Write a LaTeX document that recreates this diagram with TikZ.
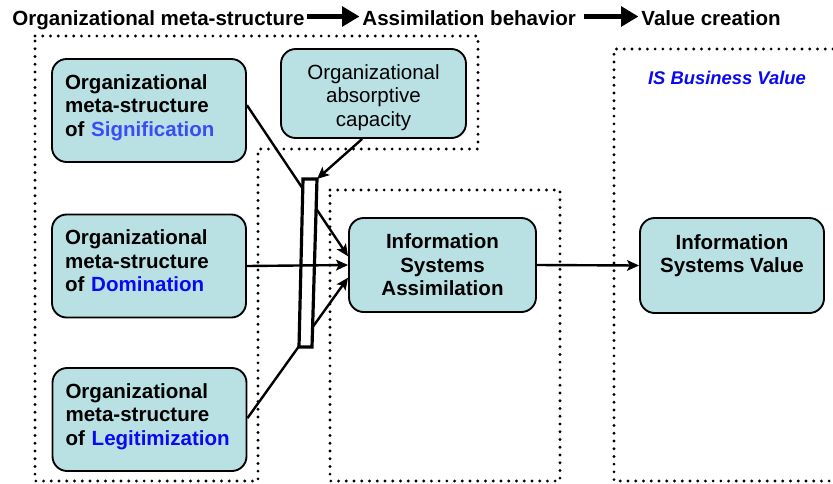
\documentclass[tikz,border=0pt]{standalone}
\usepackage{fontspec}
\setmainfont{Liberation Sans}
\usetikzlibrary{arrows.meta}
\definecolor{boxfill}{RGB}{185,224,227}
\definecolor{sigblue}{RGB}{58,76,245}
\definecolor{strongblue}{RGB}{10,10,240}

\begin{document}
\begin{tikzpicture}[x=0.75pt,y=-0.75pt,
        every node/.style={font=\fontsize{15.4}{17.6}\selectfont},
        isbox/.style={draw=black, line width=1.4pt, fill=boxfill, rounded corners=11pt},
        leftbox/.style={isbox, align=left, text width=126pt, inner xsep=9.75pt, text depth=43pt,
            minimum height=77.25pt, font=\fontsize{15.4}{17.6}\selectfont\bfseries},
        region/.style={line width=2.4pt, dash pattern=on 0pt off 5.8pt, line cap=round},
        link/.style={line width=1.8pt, -{Stealth[length=9pt,width=8pt,inset=2pt]}},
        headline/.style={anchor=base west, inner sep=2pt, text height=11.5pt, text depth=3.2pt,
            font=\fontsize{15.4}{17.6}\selectfont\bfseries},
        titlearrow/.style={line width=4.3pt, -{Triangle[length=13pt,width=14.5pt]}}]
        \useasboundingbox (0,0) rectangle (833,483);

        % dotted regions
        \draw[region] (35,36) -- (478,36) -- (478,149) -- (258,149) -- (258,481) -- (35,481) -- cycle;
        \draw[region] (330,190) -- (560,190) -- (560,481) -- (330,481) -- cycle;
        \draw[region] (833,49) -- (614,49) -- (614,481) -- (833,481);

        % headline
        \node[headline] (t1) at (9.5,25.5) {Organizational meta-structure};
        \node[headline] (t2) at (359.5,25.5) {Assimilation behavior};
        \node[headline] (t3) at (638.5,25.5) {Value creation};
        \draw[titlearrow] ([yshift=2.6pt]t1.east) -- ([yshift=2.6pt]t2.west);
        \draw[titlearrow] ([yshift=2.6pt,xshift=4pt]t2.east) -- ([yshift=2.6pt]t3.west);

        \node[font=\fontsize{13.8}{16}\selectfont\bfseries\itshape, text=strongblue] (isbv) at (727,78) {IS Business Value};

        % boxes
        \node[leftbox] (sig) at (149,110.5) {Organizational\\meta-structure\\of \textcolor{sigblue}{Signification}};
        \node[leftbox] (dom) at (149,266) {Organizational\\meta-structure\\of \textcolor{strongblue}{Domination}};
        \node[leftbox] (legit) at (149.5,419.5) {Organizational\\meta-structure\\of \textcolor{strongblue}{Legitimization}};
        \node[isbox, align=center, text height=52.5pt, minimum width=138.75pt, minimum height=66.75pt] (absorb) at (373.5,93.5) {Organizational\\absorptive\\capacity};
        \node[isbox, align=center, minimum width=140.25pt, minimum height=70.5pt, font=\fontsize{15.4}{17.6}\selectfont\bfseries] (assim) at (442.5,265) {Information\\Systems\\Assimilation};
        \node[isbox, align=center, minimum width=138pt, minimum height=71.25pt, font=\fontsize{15.4}{17.6}\selectfont\bfseries] (val) at (732,265.5) {Information\\Systems Value\\\mbox{}};

        % connectors
        \coordinate (b1) at (303,179);
        \coordinate (b2) at (317,179);
        \coordinate (b3) at (312,347);
        \coordinate (b4) at (299,347);
        \draw[link] ([yshift=4pt]sig.east) -- ([yshift=6.5pt]assim.west);
        \draw[link] ([yshift=1pt]legit.east) -- ([yshift=-9.5pt]assim.west);
        \filldraw[fill=white, line width=2.4pt] (b1) -- (b2) -- (b3) -- (b4) -- cycle;
        \draw[link] ([xshift=-8.5pt]absorb.south) -- (b2);
        \draw[link] (dom.east) -- (assim.west);
        \draw[link] (assim.east) -- (val.west);
    \end{tikzpicture}
\end{document}
